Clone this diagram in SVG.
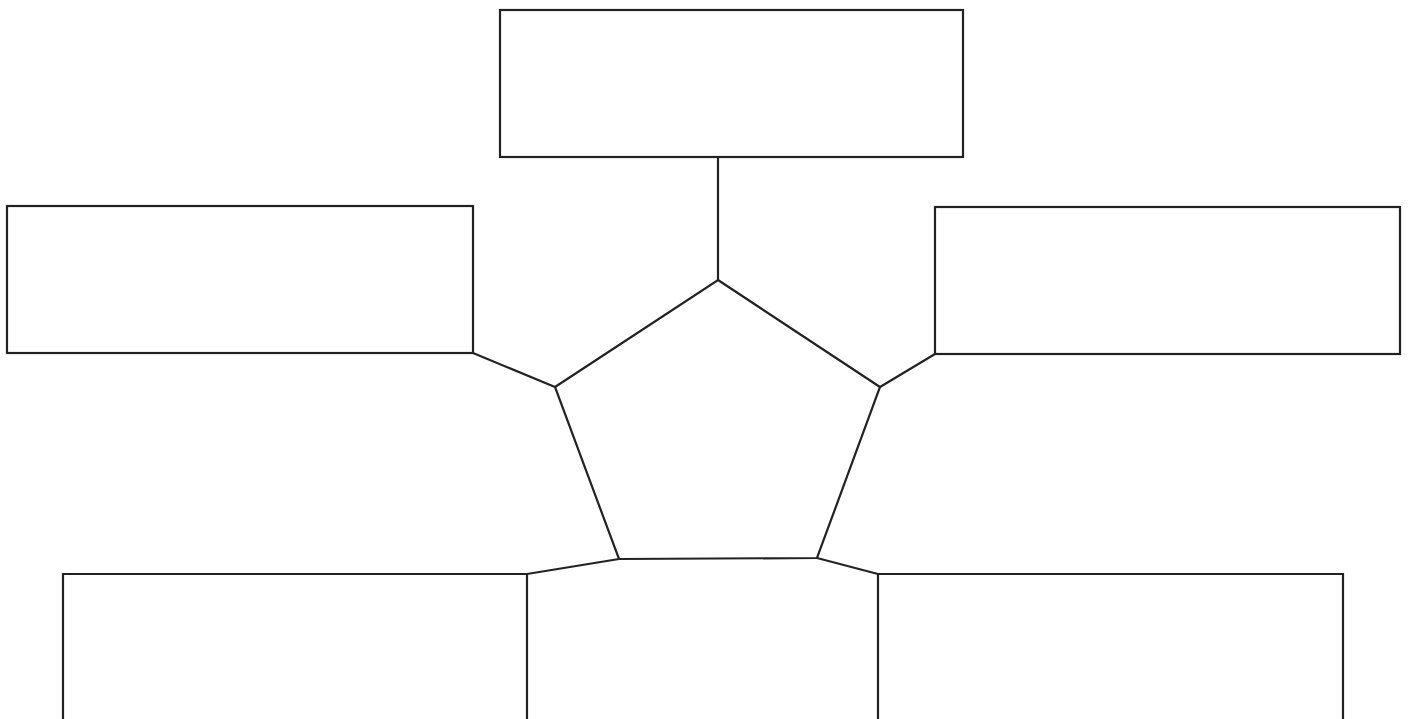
<svg xmlns="http://www.w3.org/2000/svg" width="1408" height="719" viewBox="0 0 1408 719">
<style>
.n{fill:#fff;stroke:#222;stroke-width:2.2;stroke-linejoin:miter}
.c{fill:none;stroke:#222;stroke-width:2.2}
</style>
<rect width="1408" height="719" fill="#fff"/>
<g id="connectors">
<line class="c" x1="718" y1="157" x2="718" y2="280"/>
<line class="c" x1="473" y1="353" x2="555" y2="387"/>
<line class="c" x1="935" y1="354" x2="880" y2="387"/>
<line class="c" x1="527" y1="574" x2="619" y2="559"/>
<line class="c" x1="878" y1="574" x2="817" y2="558"/>
</g>
<g id="center"><polygon class="n" points="718,280 880,387 817,558 619,559 555,387"/></g>
<g id="top"><rect class="n" x="500" y="10" width="463" height="147"/></g>
<g id="left"><rect class="n" x="7" y="206" width="466" height="147"/></g>
<g id="right"><rect class="n" x="935" y="207" width="465" height="147"/></g>
<g id="bottom-left"><path class="n" d="M63,720 V574 H527 V720"/></g>
<g id="bottom-right"><path class="n" d="M878,720 V574 H1343 V720"/></g>
</svg>
